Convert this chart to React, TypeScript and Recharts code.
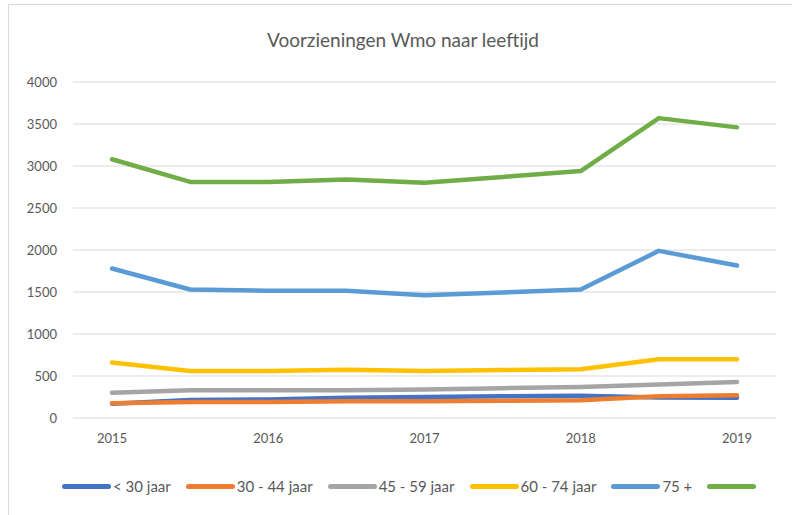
import { CartesianGrid, Line, LineChart, XAxis, YAxis } from 'recharts';

// Periods: half-year steps, only the whole years get a label.
const PERIODS = ['2015', '2015-2', '2016', '2016-2', '2017', '2017-2', '2018', '2018-2', '2019'];

const ONDER_30 = [170, 215, 220, 240, 250, 258, 265, 245, 240];
const J30_44 = [175, 190, 190, 200, 200, 205, 210, 258, 270];
const J45_59 = [300, 330, 330, 330, 340, 355, 370, 400, 430];
const J60_74 = [660, 560, 560, 575, 560, 570, 580, 700, 700];
const J75_PLUS = [1780, 1530, 1515, 1515, 1460, 1495, 1530, 1990, 1815];
const TOTAAL = [3080, 2810, 2810, 2840, 2800, 2870, 2940, 3570, 3460];

const Y_TICKS = [0, 500, 1000, 1500, 2000, 2500, 3000, 3500, 4000];

const SERIES = [
  { key: 'onder30', name: '< 30 jaar', color: '#4472C4', values: ONDER_30 },
  { key: 'j30', name: '30 - 44 jaar', color: '#ED7D31', values: J30_44 },
  { key: 'j45', name: '45 - 59 jaar', color: '#A5A5A5', values: J45_59 },
  { key: 'j60', name: '60 - 74 jaar', color: '#FFC000', values: J60_74 },
  { key: 'j75', name: '75 +', color: '#5B9BD5', values: J75_PLUS },
  { key: 'totaal', name: '', color: '#70AD47', values: TOTAAL },
];

const DATA = PERIODS.map((p, i) => {
  const row: Record<string, string | number> = { period: p };
  SERIES.forEach((s) => {
    row[s.key] = s.values[i];
  });
  return row;
});

const FONT = 'Lato, "Open Sans", sans-serif';
const TEXT = '#595959';

function LegendRow() {
  return (
    <div
      style={{
        position: 'absolute',
        top: 475,
        left: 62,
        height: 22,
        display: 'flex',
        alignItems: 'center',
      }}
    >
      {SERIES.map((s) => (
        <div key={s.key} style={{ display: 'flex', alignItems: 'center', marginRight: 15 }}>
          <div style={{ width: 49, height: 5, borderRadius: 3, background: s.color }} />
          <span style={{ fontFamily: FONT, fontSize: 15, color: TEXT, marginLeft: 2 }}>{s.name}</span>
        </div>
      ))}
    </div>
  );
}

export default function App() {
  return (
    <div style={{ position: 'absolute', left: 0, top: 0, width: 792, height: 515, background: '#fff', overflow: 'hidden' }}>
      <div
        style={{
          position: 'absolute',
          left: 8,
          top: 4,
          width: 800,
          height: 520,
          borderLeft: '1px solid #d9d9d9',
          borderTop: '1px solid #d9d9d9',
        }}
      />
      <div
        style={{
          position: 'absolute',
          top: 28,
          left: 0,
          width: 806,
          textAlign: 'center',
          fontFamily: FONT,
          fontSize: 19,
          color: TEXT,
        }}
      >
        Voorzieningen Wmo naar leeftijd
      </div>
      <div style={{ position: 'absolute', left: 0, top: 0 }}>
        <LineChart width={792} height={515} data={DATA} margin={{ top: 82, right: 16, bottom: 67, left: 13 }}>
          <CartesianGrid horizontal vertical={false} stroke="#d9d9d9" strokeWidth={1} />
          <XAxis
            dataKey="period"
            interval={1}
            height={30}
            padding={{ left: 39, right: 39 }}
            axisLine={false}
            tickLine={false}
            tickMargin={10}
            tick={{ fill: TEXT, fontSize: 13, fontFamily: FONT }}
          />
          <YAxis
            width={60}
            domain={[0, 4000]}
            ticks={Y_TICKS}
            axisLine={false}
            tickLine={false}
            tickMargin={10}
            tick={{ fill: TEXT, fontSize: 13, fontFamily: FONT }}
          />
          {SERIES.map((s) => (
            <Line
              key={s.key}
              dataKey={s.key}
              name={s.name}
              stroke={s.color}
              strokeWidth={4.5}
              strokeLinecap="round"
              strokeLinejoin="round"
              dot={false}
              activeDot={false}
              isAnimationActive={false}
            />
          ))}
        </LineChart>
      </div>
      <LegendRow />
    </div>
  );
}
